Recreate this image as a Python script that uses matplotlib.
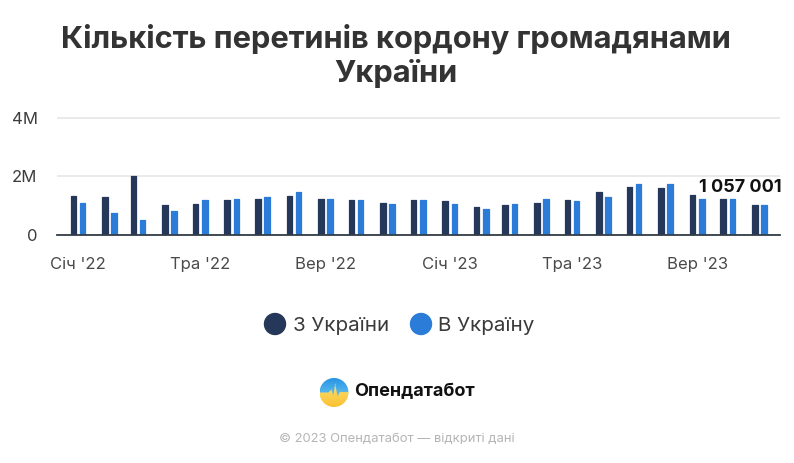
import numpy as np
import matplotlib
matplotlib.use('Agg')
import matplotlib.pyplot as plt
import matplotlib.dates as mdates
from matplotlib.patches import Circle
from datetime import datetime

plt.rcParams['font.family'] = ['Inter', 'DejaVu Sans']

months = [datetime(2022 + i // 12, i % 12 + 1, 1) for i in range(23)]
tick_months = [datetime(2022, 1, 1), datetime(2022, 5, 1), datetime(2022, 9, 1),
               datetime(2023, 1, 1), datetime(2023, 5, 1), datetime(2023, 9, 1)]
tick_labels = ["Січ '22", "Тра '22", "Вер '22", "Січ '23", "Тра '23", "Вер '23"]

# millions of crossings per month
from_ukraine = [1.32, 1.28, 2.00, 1.00, 1.05, 1.19, 1.23, 1.32, 1.23, 1.19, 1.10, 1.19,
                1.14, 0.96, 1.00, 1.10, 1.19, 1.46, 1.64, 1.60, 1.37, 1.23, 1.00]
to_ukraine = [1.10, 0.73, 0.51, 0.82, 1.19, 1.23, 1.28, 1.46, 1.23, 1.19, 1.05, 1.19,
              1.05, 0.87, 1.05, 1.23, 1.14, 1.28, 1.74, 1.74, 1.23, 1.23, 1.00]

W, H = 794, 463
DARK = '#263859'
BLUE = '#2b7cd9'

fig = plt.figure(figsize=(W / 100, H / 100), dpi=100)

# axes box in pixels: x 57-780, y 116.7-234.7
ax = fig.add_axes([57 / W, 1 - 234.7 / H, 723 / W, 118 / H])

x = mdates.date2num(months)
px_per_day = 31 / 30.44
day0 = x[0] - (78 - 57) / px_per_day
ax.set_xlim(day0, day0 + 723 / px_per_day)
ax.set_ylim(0, 4.04)

offset = 4.6 / px_per_day
width = 5.6 / px_per_day
for vals, sign, col in [(from_ukraine, -1, DARK), (to_ukraine, 1, BLUE)]:
    bars = ax.bar(x + sign * offset, vals, width=width, color=col, edgecolor=col,
                  linewidth=0.9, zorder=3)
    for b in bars:
        b.set_joinstyle('round')

for s in ['top', 'left', 'right']:
    ax.spines[s].set_visible(False)
ax.spines['bottom'].set_color('#333d47')
ax.spines['bottom'].set_linewidth(1.3)
ax.spines['bottom'].set_zorder(4)

ax.set_yticks([0, 2, 4])
ax.set_yticklabels(['0', '2M', '4M'])
ax.tick_params(axis='y', length=0, labelsize=12, labelcolor='#3c3c3c', pad=14)
ax.grid(axis='y', color='#e6e6e6', linewidth=1.2, zorder=0)
ax.set_xticks(mdates.date2num(tick_months))
ax.set_xticklabels(tick_labels)
ax.tick_params(axis='x', length=0, labelsize=12, labelcolor='#4a4a4a', pad=16)

fig.text(396 / W, 1 - 39 / H, 'Кількість перетинів кордону громадянами', ha='center', va='center',
         fontsize=22.2, fontweight='bold', color='#333333')
fig.text(396 / W, 1 - 74 / H, 'України', ha='center', va='center',
         fontsize=22.2, fontweight='bold', color='#333333')

fig.text(740 / W, 1 - 187 / H, '1 057 001', ha='center', va='center',
         fontsize=13, fontweight='bold', color='#111111')

# legend
ax_leg = fig.add_axes([0, 0, 1, 1], facecolor='none')
ax_leg.set_xlim(0, W)
ax_leg.set_ylim(H, 0)
ax_leg.axis('off')
ax_leg.add_patch(Circle((275, 324), 10.5, color=DARK))
ax_leg.add_patch(Circle((421, 324), 10.5, color=BLUE))
ax_leg.text(293, 326, 'З України', va='center', fontsize=14.8, color='#3a3a3a')
ax_leg.text(438, 326, 'В Україну', va='center', fontsize=14.8, color='#3a3a3a')

# logo
ax_logo = fig.add_axes([319.5 / W, 1 - 407 / H, 29 / W, 29 / H])
ax_logo.axis('off')
n = 60
img = np.zeros((n, n, 3))
pulse_x = np.array([0, 18, 23, 27, 31, 36, 41, 60])
pulse_y = np.array([30, 29, 23, 36, 12, 38, 28, 29])
boundary = np.interp(np.arange(n), pulse_x, pulse_y)
for col in range(n):
    for row in range(n):
        t = row / (n - 1)
        if row < boundary[col]:
            img[row, col] = np.array([0.16, 0.58, 0.90]) * (1 - t) + np.array([0.50, 0.85, 0.95]) * t
        else:
            img[row, col] = np.array([0.99, 0.90, 0.50]) * (1 - t) + np.array([0.98, 0.76, 0.20]) * t
im = ax_logo.imshow(img, extent=(0, 1, 0, 1), aspect='auto')
im.set_clip_path(Circle((0.5, 0.5), 0.5, transform=ax_logo.transData))

fig.text(354 / W, 1 - 392 / H, 'Опендатабот', va='center', fontsize=13, fontweight='bold', color='#111111')
fig.text(397 / W, 1 - 439 / H, '© 2023 Опендатабот — відкриті дані', ha='center', va='center',
         fontsize=9.4, color='#b5b5b5')

fig.savefig('out.png', dpi=100)
